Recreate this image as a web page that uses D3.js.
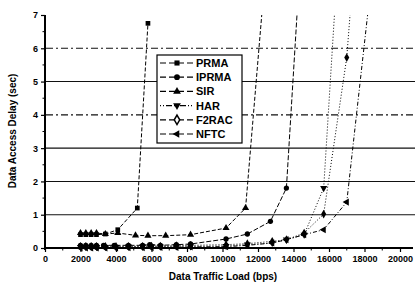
<!DOCTYPE html>
<html>
<head>
<meta charset="utf-8">
<script src="https://cdn.jsdelivr.net/npm/d3@7"></script>
<style>
  body { margin: 0; background: #fff; }
  svg { display: block; font-family: "Liberation Sans", Arial, sans-serif; font-weight: bold; }
</style>
</head>
<body>
<div class="chart"></div>
<script>
// data (last point of some series lies above the plot and is clipped)
const seriesNames = ['PRMA', 'IPRMA', 'SIR', 'HAR', 'F2RAC', 'NFTC']

const prmaX = [2000, 2300, 2600, 2900, 3400, 4100, 5200, 5800]
const prmaY = [0.4, 0.4, 0.4, 0.4, 0.42, 0.55, 1.2, 6.75]

const iprmaX = [2000, 2300, 2600, 2900, 3300, 3900, 4700, 5500, 5900, 6500, 7400, 8200, 10200, 11400, 12700, 13600, 14300]
const iprmaY = [0.08, 0.08, 0.08, 0.08, 0.08, 0.08, 0.08, 0.08, 0.1, 0.08, 0.1, 0.12, 0.27, 0.42, 0.8, 1.8, 7.9]

const sirX = [2000, 2300, 2600, 2900, 3400, 4100, 5100, 5800, 6800, 8200, 10200, 11300, 12400]
const sirY = [0.45, 0.45, 0.45, 0.45, 0.42, 0.45, 0.38, 0.37, 0.37, 0.4, 0.6, 1.2, 8.2]

const harX = [2000, 2300, 2600, 2900, 3400, 4000, 4700, 5500, 6000, 6500, 7400, 8200, 10200, 11400, 12800, 13600, 14600, 15700, 16400]
const harY = [0.03, 0.03, 0.03, 0.03, 0.03, 0.03, 0.04, 0.04, 0.04, 0.04, 0.05, 0.05, 0.06, 0.1, 0.15, 0.25, 0.4, 1.8, 7.8]

const f2racX = [2000, 2300, 2600, 2900, 3400, 4000, 4700, 5500, 6000, 6500, 7400, 8200, 10200, 11400, 12800, 13600, 14600, 15700, 17000, 17300]
const f2racY = [0.05, 0.05, 0.05, 0.05, 0.05, 0.05, 0.05, 0.05, 0.06, 0.06, 0.07, 0.08, 0.1, 0.13, 0.2, 0.25, 0.45, 1.02, 5.72, 7.8]

const nftcX = [2000, 2300, 2600, 2900, 3400, 4000, 4700, 5500, 6000, 6500, 7400, 8200, 10200, 11400, 12800, 13600, 14600, 15700, 17000, 18300]
const nftcY = [0.0, 0.0, 0.0, 0.0, 0.0, 0.0, 0.01, 0.01, 0.01, 0.02, 0.02, 0.03, 0.04, 0.08, 0.15, 0.25, 0.4, 0.55, 1.38, 7.6]

const xTicks = [0, 2000, 4000, 6000, 8000, 10000, 12000, 14000, 16000, 18000, 20000]
const yTicks = [0, 1, 2, 3, 4, 5, 6, 7]
const gridVals = [1, 2, 3, 4, 5, 6]

const W = 417, H = 283
const svg = d3.select('.chart').append('svg')
    .attr('width', W).attr('height', H)

const x = d3.scaleLinear().domain([0, 20000]).range([45, 400])
const y = d3.scaleLinear().domain([0, 7]).range([248, 15])

// grid lines
svg.append('g').selectAll('line').data(gridVals).join('line')
    .attr('x1', 46).attr('x2', 415)
    .attr('y1', d => y(d)).attr('y2', d => y(d))
    .attr('stroke', '#111').attr('stroke-width', 1.1)
    .attr('stroke-dasharray', d => (d == 4 || d == 6) ? '7,3,2,3' : null)

// axes
let xa = svg.append('g').attr('transform', `translate(0,${y(0)})`)
    .call(d3.axisBottom(x).tickValues(xTicks).tickSize(4).tickPadding(4).tickFormat(d3.format('d')))
xa.select('.domain').remove()
xa.append('g').selectAll('line').data(d3.range(1000, 21000, 2000)).join('line')
    .attr('x1', d => x(d)).attr('x2', d => x(d)).attr('y1', 0).attr('y2', 2.5)
    .attr('stroke', '#000')
xa.append('line').attr('x1', 44).attr('x2', 413).attr('stroke', '#000').attr('stroke-width', 2)

let ya = svg.append('g').attr('transform', `translate(${x(0)},0)`)
    .call(d3.axisLeft(y).tickValues(yTicks).tickSize(4).tickPadding(3).tickFormat(d3.format('d')))
ya.select('.domain').remove()
ya.append('g').selectAll('line').data(d3.range(0.5, 7, 1)).join('line')
    .attr('y1', d => y(d)).attr('y2', d => y(d)).attr('x1', 0).attr('x2', -2.5)
    .attr('stroke', '#000')
ya.append('line').attr('y1', y(0) + 2).attr('y2', y(7)).attr('stroke', '#000').attr('stroke-width', 2)

svg.selectAll('.tick line').attr('stroke', '#000').attr('stroke-width', 1.2)
svg.selectAll('.tick text').attr('font-size', 9).attr('font-weight', 'bold')
    .attr('font-family', '"Liberation Sans", Arial, sans-serif').attr('fill', '#000')

// titles
svg.append('text').attr('x', 223).attr('y', 280).attr('text-anchor', 'middle')
    .attr('font-size', 10).text('Data Traffic Load (bps)')
svg.append('text').attr('transform', 'translate(16,131) rotate(-90)').attr('text-anchor', 'middle')
    .attr('font-size', 10).text('Data Access Delay (sec)')

// series
const series = [
    { name: 'PRMA', xs: prmaX, ys: prmaY, sym: d3.symbolSquare, rot: 0, dash: '4,2', fill: '#000' },
    { name: 'IPRMA', xs: iprmaX, ys: iprmaY, sym: d3.symbolCircle, rot: 0, dash: '5,2', fill: '#000' },
    { name: 'SIR', xs: sirX, ys: sirY, sym: d3.symbolTriangle, rot: 0, dash: '4,2', fill: '#000' },
    { name: 'HAR', xs: harX, ys: harY, sym: d3.symbolTriangle, rot: 180, dash: '1,2', fill: '#000' },
    { name: 'F2RAC', xs: f2racX, ys: f2racY, sym: d3.symbolDiamond, rot: 0, dash: '1,2', fill: '#000' },
    { name: 'NFTC', xs: nftcX, ys: nftcY, sym: d3.symbolTriangle, rot: -90, dash: '4,2,1,2', fill: '#000' }
]

svg.append('clipPath').attr('id', 'clip').append('rect')
    .attr('x', 40).attr('y', y(7)).attr('width', 380).attr('height', y(0) - y(7) + 10)

const plot = svg.append('g').attr('clip-path', 'url(#clip)')
const line = d3.line().x(d => x(d[0])).y(d => y(d[1]))

for (let s of series) {
    let pts = s.xs.map((v, i) => [v, s.ys[i]])
    plot.append('path').datum(pts).attr('d', line)
        .attr('fill', 'none').attr('stroke', '#000').attr('stroke-width', 1)
        .attr('stroke-dasharray', s.dash)
    plot.append('g').selectAll('path').data(pts).join('path')
        .attr('d', d3.symbol().type(s.sym).size(22))
        .attr('transform', d => `translate(${x(d[0])},${y(d[1])}) rotate(${s.rot})`)
        .attr('fill', s.fill)
}

// legend
const lg = svg.append('g').attr('transform', 'translate(157,55)')
lg.append('rect').attr('width', 85).attr('height', 88)
    .attr('fill', '#fff').attr('stroke', '#000').attr('stroke-width', 1.2)
series.forEach((s, i) => {
    let ly = 8 + i * 14.2
    lg.append('line').attr('x1', 3).attr('x2', 37).attr('y1', ly).attr('y2', ly)
        .attr('stroke', '#000').attr('stroke-width', 1.2).attr('stroke-dasharray', i == 3 ? '1,2,1,2,6,2' : '6,3')
    lg.append('path').attr('d', d3.symbol().type(s.sym).size(26))
        .attr('transform', `translate(20,${ly}) rotate(${s.rot})`)
        .attr('fill', s.name == 'F2RAC' ? '#fff' : '#000')
        .attr('stroke', s.name == 'F2RAC' ? '#000' : 'none').attr('stroke-width', 1.5)
    lg.append('text').attr('x', 39).attr('y', ly + 4).attr('font-size', 11).text(s.name)
})
</script>
</body>
</html>
